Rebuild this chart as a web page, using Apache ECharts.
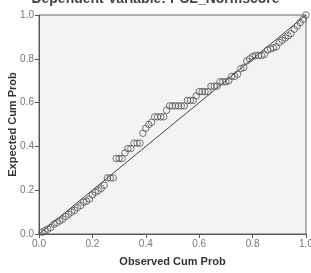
<!DOCTYPE html>
<html>
<head>
<meta charset="utf-8">
<script src="https://cdn.jsdelivr.net/npm/echarts@6/dist/echarts.min.js"></script>
<style>html,body{margin:0;padding:0;background:#fff}#c{width:311px;height:273px}</style>
</head>
<body>
<div id="c"></div>
<script>
var titleText = "Dependent Variable: PCL_Normscore";
var xName = "Observed Cum Prob";
var yName = "Expected Cum Prob";
var tickLabels = ["0.0", "0.2", "0.4", "0.6", "0.8", "1.0"];
var observed = [0.011,0.022,0.033,0.044,0.056,0.067,0.078,0.089,0.100,0.111,
  0.122,0.133,0.144,0.156,0.167,0.178,0.189,0.200,0.211,0.222,
  0.233,0.244,0.256,0.267,0.278,0.289,0.300,0.311,0.322,0.333,
  0.344,0.356,0.367,0.378,0.389,0.400,0.411,0.422,0.433,0.444,
  0.456,0.467,0.478,0.489,0.500,0.511,0.522,0.533,0.544,0.556,
  0.567,0.578,0.589,0.600,0.611,0.622,0.633,0.644,0.656,0.667,
  0.678,0.689,0.700,0.711,0.722,0.733,0.744,0.756,0.767,0.778,
  0.789,0.800,0.811,0.822,0.833,0.844,0.856,0.867,0.878,0.889,
  0.900,0.911,0.922,0.933,0.944,0.956,0.967,0.978,0.989,1.000];
var expected = [0.008,0.015,0.022,0.030,0.045,0.052,0.060,0.068,0.080,0.090,
  0.100,0.108,0.120,0.130,0.145,0.150,0.160,0.178,0.190,0.198,
  0.208,0.222,0.256,0.256,0.256,0.345,0.345,0.345,0.370,0.390,
  0.390,0.415,0.415,0.415,0.460,0.483,0.500,0.510,0.535,0.535,
  0.535,0.535,0.565,0.585,0.585,0.585,0.585,0.585,0.585,0.610,
  0.610,0.610,0.630,0.650,0.650,0.650,0.650,0.675,0.675,0.675,
  0.695,0.695,0.695,0.700,0.720,0.720,0.730,0.755,0.760,0.790,
  0.800,0.810,0.815,0.815,0.815,0.820,0.840,0.845,0.850,0.855,
  0.875,0.885,0.895,0.905,0.915,0.935,0.950,0.965,0.980,1.000];
var refLine = [[0, 0], [1, 1]];

var pts = observed.map(function (v, i) { return [v, expected[i]]; });
var chart = echarts.init(document.getElementById('c'));
var axisCommon = {
  min: 0, max: 1, interval: 0.2,
  axisLine: { show: true, lineStyle: { color: '#555', width: 1 } },
  axisTick: { show: true, length: 4, lineStyle: { color: '#555' } },
  splitLine: { show: false },
  nameMoveOverlap: false,
  axisLabel: {
    color: '#777', fontSize: 10, fontFamily: 'Liberation Sans', margin: 5,
    formatter: function (v) { return tickLabels[Math.round(v / 0.2)]; }
  },
  nameTextStyle: { color: '#333', fontSize: 11, fontWeight: 'bold', fontFamily: 'Liberation Sans' }
};
chart.setOption({
  animation: false,
  backgroundColor: '#fff',
  title: {
    text: titleText, left: 'center', top: -13,
    textStyle: { color: '#444', fontSize: 14, fontWeight: 'bold', fontFamily: 'Liberation Sans' }
  },
  grid: {
    left: 39, right: 5, top: 15, bottom: 39,
    containLabel: false, outerBoundsMode: 'none',
    show: true, backgroundColor: '#f3f3f3', borderColor: '#666', borderWidth: 1
  },
  xAxis: Object.assign({}, axisCommon, {
    type: 'value', name: xName, nameLocation: 'middle', nameGap: 22
  }),
  yAxis: Object.assign({}, axisCommon, {
    type: 'value', name: yName, nameLocation: 'middle', nameGap: 21
  }),
  series: [
    {
      type: 'line', data: refLine, showSymbol: false, symbol: 'none',
      lineStyle: { color: '#444', width: 1 }, z: 2
    },
    {
      type: 'scatter', data: pts, symbol: 'circle', symbolSize: 6.5,
      itemStyle: { color: 'rgba(0,0,0,0)', borderColor: '#555', borderWidth: 1 }, z: 3
    }
  ]
});
</script>
</body>
</html>
